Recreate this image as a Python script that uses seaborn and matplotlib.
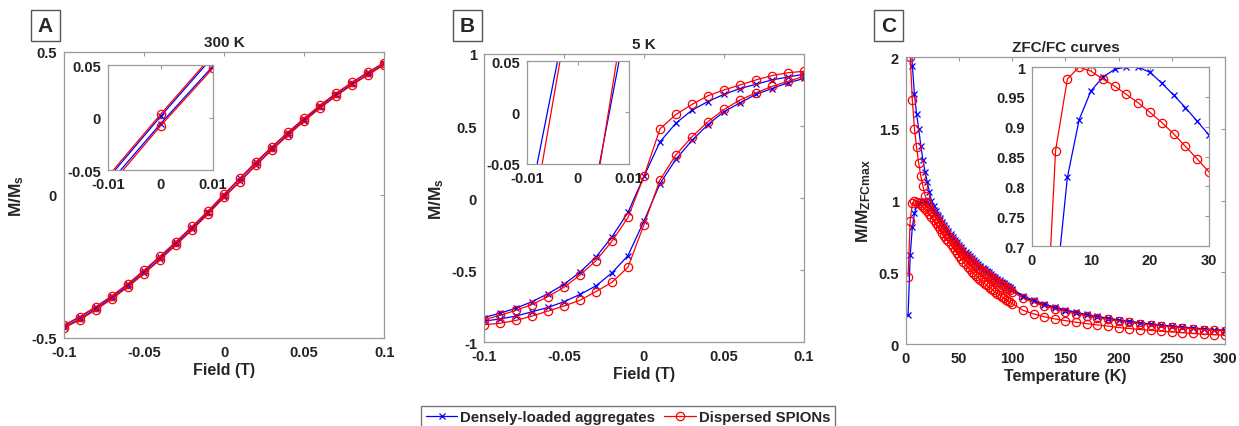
import matplotlib
matplotlib.use("Agg")
import matplotlib.pyplot as plt
from matplotlib.lines import Line2D
from matplotlib.patches import Rectangle
import seaborn as sns

# ---- data -------------------------------------------------------------
field = [-0.1, -0.09, -0.08, -0.07, -0.06, -0.05, -0.04, -0.03, -0.02, -0.01, 0.0,
         0.01, 0.02, 0.03, 0.04, 0.05, 0.06, 0.07, 0.08, 0.09, 0.1]

# 300 K loops (upper = descending branch, lower = ascending branch)
a_red_up = [-0.455, -0.425, -0.390, -0.352, -0.310, -0.263, -0.214, -0.163, -0.110, -0.056, 0.003,
            0.060, 0.116, 0.169, 0.220, 0.268, 0.314, 0.356, 0.394, 0.430, 0.462]
a_red_lo = [-0.465, -0.436, -0.401, -0.363, -0.321, -0.275, -0.226, -0.175, -0.122, -0.067, -0.008,
            0.047, 0.104, 0.158, 0.209, 0.258, 0.304, 0.346, 0.385, 0.420, 0.455]
a_blue_up = [-0.456, -0.426, -0.392, -0.354, -0.312, -0.265, -0.216, -0.165, -0.112, -0.058, 0.001,
             0.058, 0.114, 0.167, 0.218, 0.266, 0.312, 0.354, 0.393, 0.429, 0.462]
a_blue_lo = [-0.462, -0.433, -0.398, -0.360, -0.318, -0.272, -0.223, -0.172, -0.119, -0.064, -0.006,
             0.049, 0.106, 0.160, 0.211, 0.260, 0.306, 0.348, 0.387, 0.422, 0.457]

# 5 K loops
b_red_up = [-0.845, -0.815, -0.78, -0.74, -0.685, -0.62, -0.535, -0.435, -0.30, -0.135, 0.15,
            0.48, 0.58, 0.65, 0.71, 0.75, 0.785, 0.82, 0.85, 0.87, 0.88]
b_red_lo = [-0.88, -0.87, -0.85, -0.82, -0.785, -0.75, -0.71, -0.65, -0.585, -0.48, -0.185,
            0.125, 0.30, 0.425, 0.53, 0.615, 0.68, 0.73, 0.775, 0.81, 0.845]
b_blue_up = [-0.83, -0.80, -0.765, -0.72, -0.665, -0.60, -0.515, -0.41, -0.27, -0.10, 0.15,
             0.39, 0.52, 0.61, 0.67, 0.72, 0.76, 0.79, 0.82, 0.84, 0.86]
b_blue_lo = [-0.855, -0.84, -0.82, -0.79, -0.76, -0.72, -0.67, -0.61, -0.52, -0.40, -0.16,
             0.10, 0.27, 0.40, 0.51, 0.60, 0.66, 0.72, 0.76, 0.80, 0.83]

# ZFC / FC
temp = [2, 4, 6, 8, 10, 12, 14, 16, 18, 20, 22, 24, 26, 28, 30, 32, 34, 36, 38, 40,
        42, 44, 46, 48, 50, 52, 54, 56, 58, 60, 62, 64, 66, 68, 70, 72, 74, 76, 78, 80,
        82, 84, 86, 88, 90, 92, 94, 96, 98, 100, 110, 120, 130, 140, 150, 160, 170, 180,
        190, 200, 210, 220, 230, 240, 250, 260, 270, 280, 290, 300]
zfc_blue = [0.20, 0.62, 0.815, 0.912, 0.96, 0.983, 0.996, 1.0, 1.0, 0.991, 0.973, 0.953, 0.932, 0.909,
            0.886, 0.862, 0.839, 0.816, 0.794, 0.773, 0.753, 0.733, 0.714, 0.696, 0.678, 0.661,
            0.645, 0.629, 0.614, 0.600, 0.586, 0.572, 0.559, 0.546, 0.534, 0.522, 0.510, 0.499,
            0.488, 0.477, 0.466, 0.455, 0.445, 0.435, 0.425, 0.415, 0.405, 0.396, 0.387, 0.378,
            0.328, 0.298, 0.273, 0.252, 0.233, 0.217, 0.202, 0.189, 0.177, 0.165, 0.155, 0.146,
            0.138, 0.130, 0.123, 0.116, 0.110, 0.104, 0.099, 0.094]
fc_blue = [2.60, 2.25, 1.94, 1.74, 1.60, 1.50, 1.38, 1.28, 1.20, 1.13, 1.06, 1.00, 0.96, 0.925,
           0.900, 0.875, 0.851, 0.828, 0.806, 0.785, 0.765, 0.745, 0.726, 0.708, 0.690, 0.673,
           0.657, 0.641, 0.626, 0.611, 0.597, 0.583, 0.570, 0.557, 0.545, 0.533, 0.521, 0.510,
           0.499, 0.487, 0.476, 0.465, 0.454, 0.444, 0.434, 0.424, 0.414, 0.404, 0.395, 0.386,
           0.335, 0.305, 0.279, 0.257, 0.238, 0.221, 0.206, 0.192, 0.180, 0.168, 0.158, 0.149,
           0.140, 0.132, 0.125, 0.118, 0.112, 0.106, 0.100, 0.095]
zfc_red = [0.47, 0.86, 0.98, 1.0, 0.993, 0.98, 0.968, 0.954, 0.94, 0.924, 0.907, 0.888, 0.867, 0.846,
           0.824, 0.800, 0.777, 0.756, 0.735, 0.715, 0.694, 0.673, 0.652, 0.631, 0.610, 0.591,
           0.573, 0.555, 0.537, 0.520, 0.505, 0.490, 0.475, 0.461, 0.447, 0.434, 0.421, 0.409,
           0.397, 0.385, 0.374, 0.363, 0.352, 0.341, 0.330, 0.320, 0.310, 0.300, 0.291, 0.282,
           0.235, 0.210, 0.190, 0.175, 0.163, 0.152, 0.142, 0.133, 0.125, 0.115, 0.108, 0.101,
           0.095, 0.089, 0.084, 0.079, 0.074, 0.069, 0.065, 0.061]
fc_red = [2.35, 2.00, 1.70, 1.50, 1.37, 1.26, 1.17, 1.10, 1.035, 0.99, 0.955, 0.925, 0.90, 0.877,
          0.856, 0.835, 0.815, 0.795, 0.775, 0.755, 0.735, 0.716, 0.697, 0.679, 0.662, 0.646,
          0.630, 0.615, 0.600, 0.586, 0.572, 0.559, 0.546, 0.533, 0.521, 0.509, 0.498, 0.487,
          0.476, 0.466, 0.455, 0.444, 0.433, 0.423, 0.413, 0.403, 0.393, 0.383, 0.374, 0.365,
          0.320, 0.290, 0.265, 0.244, 0.226, 0.210, 0.196, 0.183, 0.171, 0.160, 0.150, 0.141,
          0.133, 0.126, 0.119, 0.113, 0.107, 0.101, 0.096, 0.091]

series_names = ["Densely-loaded aggregates", "Dispersed SPIONs"]

# ---- style ------------------------------------------------------------
sns.set_style("white")
plt.rcParams["font.family"] = ["Liberation Sans", "DejaVu Sans"]
plt.rcParams["font.weight"] = "bold"
plt.rcParams["axes.labelweight"] = "bold"
plt.rcParams["axes.titleweight"] = "bold"
plt.rcParams["mathtext.fontset"] = "custom"
plt.rcParams["mathtext.bf"] = "Liberation Sans:bold"
plt.rcParams["mathtext.rm"] = "Liberation Sans:bold"
plt.rcParams["mathtext.default"] = "bf"

BLUE = (0, 0, 1)
RED = (1, 0, 0)
BOX = "#9a9a9a"

fig = plt.figure(figsize=(12.39, 4.27), dpi=100)


def style_ax(ax, fs=10.5):
    for s in ax.spines.values():
        s.set_color(BOX)
        s.set_linewidth(0.9)
    ax.tick_params(direction="in", length=3, width=0.8, color=BOX, top=True, right=True,
                   labelsize=fs, labelcolor="#222222")
    ax.tick_params(axis="x", pad=5)
    ax.tick_params(axis="y", pad=5)
    for lab in ax.get_xticklabels() + ax.get_yticklabels():
        lab.set_fontweight("bold")


def draw(ax, x, y, color, marker):
    if marker == "o":
        sns.lineplot(x=x, y=y, ax=ax, sort=False, estimator=None, color=color, lw=0.9,
                     marker="o", markersize=6, mfc="none", mec=color, mew=0.9)
    else:
        sns.lineplot(x=x, y=y, ax=ax, sort=False, estimator=None, color=color, lw=0.9,
                     marker="x", markersize=4, mec=color, mew=0.9)


def loops(ax, bu, bl, ru, rl):
    draw(ax, field, bu, BLUE, "x")
    draw(ax, field, bl, BLUE, "x")
    draw(ax, field, ru, RED, "o")
    draw(ax, field, rl, RED, "o")


field_ticks = [-0.1, -0.05, 0, 0.05, 0.1]
field_labels = ["-0.1", "-0.05", "0", "0.05", "0.1"]
ins_xt = [-0.01, 0, 0.01]
ins_xl = ["-0.01", "0", "0.01"]
ins_yt = [-0.05, 0, 0.05]
ins_yl = ["-0.05", "0", "0.05"]

# ---- panel A ----------------------------------------------------------
axA = fig.add_axes([0.0517, 0.2061, 0.2583, 0.6698])
loops(axA, a_blue_up, a_blue_lo, a_red_up, a_red_lo)
axA.set_xlim(-0.1, 0.1)
axA.set_ylim(-0.5, 0.5)
axA.set_xticks(field_ticks, field_labels)
axA.set_yticks([-0.5, 0, 0.5], ["-0.5", "0", "0.5"])
axA.set_xlabel("Field (T)", fontsize=11.5, labelpad=2)
axA.set_ylabel("M/M$_{s}$", fontsize=12.5, labelpad=4)
axA.set_title("300 K", fontsize=11, pad=4)
style_ax(axA)

axAi = fig.add_axes([0.0872, 0.5995, 0.0847, 0.2459])
loops(axAi, a_blue_up, a_blue_lo, a_red_up, a_red_lo)
axAi.set_xlim(-0.01, 0.01)
axAi.set_ylim(-0.05, 0.05)
axAi.set_xticks(ins_xt, ins_xl)
axAi.set_yticks(ins_yt, ins_yl)
axAi.set_xlabel("")
axAi.set_ylabel("")
style_ax(axAi)

# ---- panel B ----------------------------------------------------------
axB = fig.add_axes([0.3906, 0.1967, 0.2583, 0.6745])
loops(axB, b_blue_up, b_blue_lo, b_red_up, b_red_lo)
axB.set_xlim(-0.1, 0.1)
axB.set_ylim(-1, 1)
axB.set_xticks(field_ticks, field_labels)
axB.set_yticks([-1, -0.5, 0, 0.5, 1], ["-1", "-0.5", "0", "0.5", "1"])
axB.set_xlabel("Field (T)", fontsize=11.5, labelpad=2)
axB.set_ylabel("M/M$_{s}$", fontsize=12.5, labelpad=4)
axB.set_title("5 K", fontsize=11, pad=4)
style_ax(axB)

axBi = fig.add_axes([0.4253, 0.6136, 0.0823, 0.2412])
loops(axBi, b_blue_up, b_blue_lo, b_red_up, b_red_lo)
axBi.set_xlim(-0.01, 0.01)
axBi.set_ylim(-0.05, 0.05)
axBi.set_xticks(ins_xt, ins_xl)
axBi.set_yticks(ins_yt, ins_yl)
axBi.set_xlabel("")
axBi.set_ylabel("")
style_ax(axBi)

# ---- panel C ----------------------------------------------------------
axC = fig.add_axes([0.7312, 0.192, 0.2575, 0.6721])
draw(axC, temp, fc_blue, BLUE, "x")
draw(axC, temp, zfc_blue, BLUE, "x")
draw(axC, temp, fc_red, RED, "o")
draw(axC, temp, zfc_red, RED, "o")
axC.set_xlim(0, 300)
axC.set_ylim(0, 2)
axC.set_xticks([0, 50, 100, 150, 200, 250, 300])
axC.set_yticks([0, 0.5, 1, 1.5, 2], ["0", "0.5", "1", "1.5", "2"])
axC.set_xlabel("Temperature (K)", fontsize=11.5, labelpad=2)
axC.set_ylabel("M/M$_{ZFCmax}$", fontsize=12.5, labelpad=4)
axC.set_title("ZFC/FC curves", fontsize=11, pad=4)
style_ax(axC)

axCi = fig.add_axes([0.8329, 0.4215, 0.1429, 0.4192])
draw(axCi, temp, zfc_blue, BLUE, "x")
draw(axCi, temp, zfc_red, RED, "o")
axCi.set_xlim(0, 30)
axCi.set_ylim(0.7, 1)
axCi.set_xticks([0, 10, 20, 30])
axCi.set_yticks([0.7, 0.75, 0.8, 0.85, 0.9, 0.95, 1],
                ["0.7", "0.75", "0.8", "0.85", "0.9", "0.95", "1"])
axCi.set_xlabel("")
axCi.set_ylabel("")
style_ax(axCi)

# ---- panel letters ----------------------------------------------------
for letter, x0 in [("A", 31), ("B", 453), ("C", 874)]:
    fig.patches.append(Rectangle((x0 / 1239, 1 - 42 / 427), 29 / 1239, 31 / 427,
                                 transform=fig.transFigure, fill=False,
                                 edgecolor="#555555", lw=1.0))
    fig.text((x0 + 14.5) / 1239, 1 - 26.5 / 427, letter, fontsize=15, fontweight="bold",
             ha="center", va="center")

# ---- legend -----------------------------------------------------------
handles = [
    Line2D([], [], color=BLUE, lw=0.9, marker="x", markersize=4, mew=0.9),
    Line2D([], [], color=RED, lw=0.9, marker="o", markersize=6, mfc="none", mew=0.9),
]
fig.legend(handles, series_names, loc="center", bbox_to_anchor=(0.507, 0.02), ncol=2,
           frameon=True, fancybox=False, edgecolor="#555555", fontsize=10.8,
           handlelength=2.1, handletextpad=0.2, columnspacing=0.6, borderpad=0.3,
           borderaxespad=0)

fig.savefig("out.png", dpi=100)
